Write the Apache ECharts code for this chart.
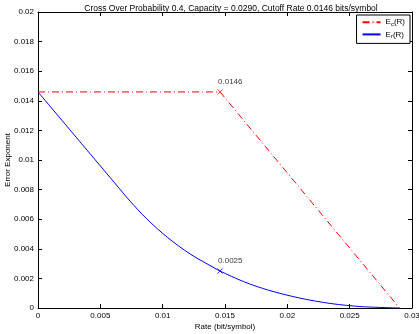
<!DOCTYPE html>
<html>
<head>
<meta charset="utf-8">
<script src="https://cdn.jsdelivr.net/npm/echarts@6/dist/echarts.min.js"></script>
<style>
  html, body { margin: 0; padding: 0; background: #fff; }
  #chart { width: 419px; height: 334px; }
</style>
</head>
<body>
<div id="chart"></div>
<script>
// rate values (bit/symbol) and exponents
var ecRate = [0, 0.0146, 0.029];
var ecValue = [0.0146, 0.0146, 0];

var erRate = [0, 0.0035, 0.0065, 0.0073, 0.00875, 0.0104, 0.0122, 0.0142, 0.0146, 0.0165, 0.0185, 0.021, 0.0235, 0.026, 0.029];
var erValue = [0.0146, 0.0111, 0.0081, 0.0073, 0.0060, 0.00476, 0.00365, 0.00268, 0.0025, 0.00178, 0.0012, 0.00067, 0.0003, 0.00009, 0];

var marks = [[0.0146, 0.0146], [0.0146, 0.0025]];
var markLabels = ['0.0146', '0.0025'];

var xTicks = ['0', '0.005', '0.01', '0.015', '0.02', '0.025', '0.03'];
var yTicks = ['0', '0.002', '0.004', '0.006', '0.008', '0.01', '0.012', '0.014', '0.016', '0.018', '0.02'];

var font = 'Liberation Sans';
var chart = echarts.init(document.getElementById('chart'));

function pairs(xs, ys) {
	return xs.map(function (x, i) { return [x, ys[i]]; });
}
function tickFmt(list, step) {
	return function (v) { return list[Math.round(v / step)]; };
}
var cross = 'path://M0,0L10,10M10,0L0,10';

var option = {
	animation: false,
	title: {
		text: 'Cross Over Probability 0.4, Capacity = 0.0290, Cutoff Rate 0.0146 bits/symbol',
		left: 226,
		textAlign: 'center',
		top: -1,
		textStyle: { fontFamily: font, fontSize: 8.5, fontWeight: 'normal', color: '#000' }
	},
	legend: {
		right: 9,
		top: 15,
		orient: 'vertical',
		itemWidth: 18,
		itemHeight: 8,
		itemGap: 3,
		padding: [3, 5, 4, 5],
		borderColor: '#000',
		borderWidth: 1,
		backgroundColor: '#fff',
		textStyle: {
			fontFamily: font, fontSize: 8, color: '#000',
			rich: { s: { fontSize: 6, verticalAlign: 'bottom', padding: [4, 0, 0, 0] } }
		},
		formatter: function (name) {
			return name === 'Ec' ? 'E{s|c}(R)' : 'E{s|r}(R)';
		},
		data: [
			{ name: 'Ec', itemStyle: { opacity: 0 } },
			{ name: 'Er', itemStyle: { opacity: 0 } }
		]
	},
	grid: { left: 38, right: 7, top: 12, bottom: 26, containLabel: false, outerBoundsMode: 'none' },
	xAxis: [{
		type: 'value', min: 0, max: 0.03, interval: 0.005,
		name: 'Rate (bit/symbol)', nameLocation: 'middle', nameGap: 15, nameMoveOverlap: false,
		nameTextStyle: { fontFamily: font, fontSize: 8, color: '#000' },
		axisLine: { onZero: false, lineStyle: { color: '#000' } },
		axisTick: { inside: true, length: 4, lineStyle: { color: '#000' } },
		axisLabel: { fontFamily: font, fontSize: 8, color: '#000', margin: 4, formatter: tickFmt(xTicks, 0.005) },
		splitLine: { show: false }
	}, {
		type: 'value', min: 0, max: 0.03, interval: 0.005, position: 'top',
		axisLine: { onZero: false, lineStyle: { color: '#000' } },
		axisTick: { inside: true, length: 4, lineStyle: { color: '#000' } },
		axisLabel: { show: false },
		splitLine: { show: false }
	}],
	yAxis: [{
		type: 'value', min: 0, max: 0.02, interval: 0.002,
		name: 'Error Exponent', nameLocation: 'middle', nameGap: 26, nameMoveOverlap: false,
		nameTextStyle: { fontFamily: font, fontSize: 8, color: '#000' },
		axisLine: { show: true, onZero: false, lineStyle: { color: '#000' } },
		axisTick: { show: true, inside: true, length: 4, lineStyle: { color: '#000' } },
		axisLabel: { fontFamily: font, fontSize: 8, color: '#000', margin: 4, formatter: tickFmt(yTicks, 0.002) },
		splitLine: { show: false }
	}, {
		type: 'value', min: 0, max: 0.02, interval: 0.002, position: 'right',
		axisLine: { show: true, onZero: false, lineStyle: { color: '#000' } },
		axisTick: { show: true, inside: true, length: 4, lineStyle: { color: '#000' } },
		axisLabel: { show: false },
		splitLine: { show: false }
	}],
	series: [
		{
			name: 'Ec', type: 'line', showSymbol: false,
			data: pairs(ecRate, ecValue),
			lineStyle: { color: '#ff0000', width: 1, type: [7, 3, 1, 3] },
			itemStyle: { color: '#ff0000' }
		},
		{
			name: 'Er', type: 'line', showSymbol: false, smooth: 0.3,
			data: pairs(erRate, erValue),
			lineStyle: { color: '#0000ff', width: 1 },
			itemStyle: { color: '#0000ff' }
		},
		{
			type: 'scatter', symbol: cross, symbolSize: 5,
			data: marks.map(function (m, i) {
				return {
					value: m,
					itemStyle: { color: 'none', borderColor: i === 0 ? '#ff0000' : '#0000ff', borderWidth: 1 },
					label: { formatter: markLabels[i] }
				};
			}),
			label: {
				show: true, position: [3, -9],
				fontFamily: font, fontSize: 8, color: '#000'
			}
		}
	]
};

chart.setOption(option);
</script>
</body>
</html>
